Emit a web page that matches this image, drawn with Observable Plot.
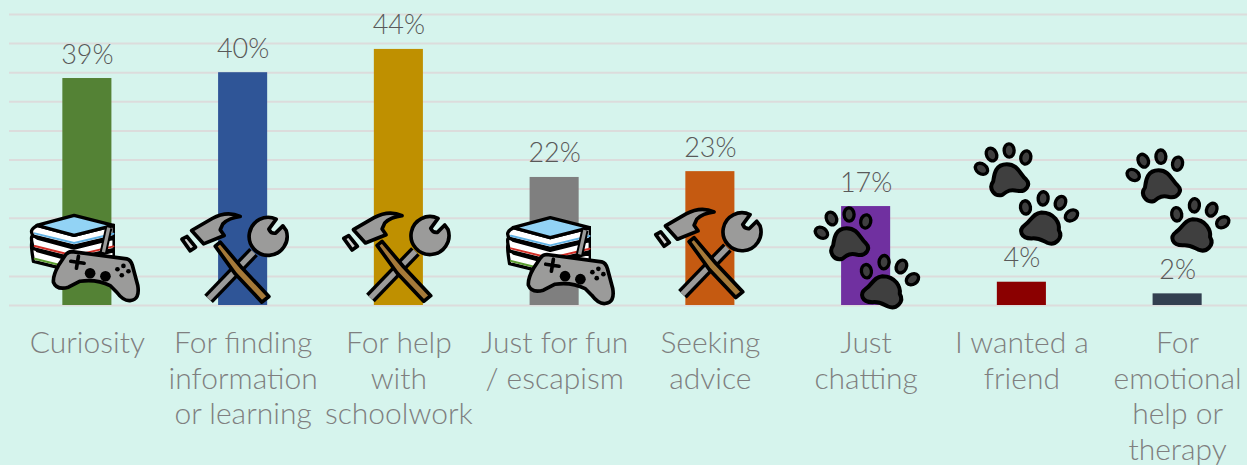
<!DOCTYPE html>
<html>
<head>
<meta charset="utf-8">
<script src="https://cdn.jsdelivr.net/npm/d3@7"></script>
<script src="https://cdn.jsdelivr.net/npm/@observablehq/plot@0.6"></script>
<style>
html,body{margin:0;padding:0;background:#d6f4ed;overflow:hidden}
svg{display:block}
</style>
</head>
<body>
<div id="chart"></div>
<script>
const categories = ["Curiosity","For finding information or learning","For help with schoolwork","Just for fun / escapism","Seeking advice","Just chatting","I wanted a friend","For emotional help or therapy"];
const tickLabels = ["Curiosity","For finding\ninformation\nor learning","For help\nwith\nschoolwork","Just for fun\n/ escapism","Seeking\nadvice","Just\nchatting","I wanted a\nfriend","For\nemotional\nhelp or\ntherapy"];
const values = [39,40,44,22,23,17,4,2];
const barColors = ["#548235","#2f5597","#bf9000","#7f7f7f","#c55a11","#7030a0","#8b0000","#333f50"];
const gridTicks = [0,5,10,15,20,25,30,35,40,45,50];

const uri = (vb, body) => "data:image/svg+xml," + encodeURIComponent(
  `<svg xmlns="http://www.w3.org/2000/svg" viewBox="${vb}" stroke-linejoin="round" stroke-linecap="round">${body}</svg>`);

const gray = "#9b9b9a", ink = "#000";
const block = (dy, c) => `<path d="M112 ${105+dy} Q84 118 100 ${137+dy} L222 ${167+dy} L342 ${139+dy} L342 ${105+dy} L222 ${135+dy} Z" fill="#fff" stroke="${ink}" stroke-width="10"/>
<path d="M104 ${129+dy} L222 ${158+dy} L340 ${130+dy}" fill="none" stroke="${c}" stroke-width="6"/>`;
const books = uri("85 25 260 260",
  block(76,"#5c9e31") + block(38,"#d22f27") + block(0,"#61b2e4") +
  `<path d="M110 105 L222 75 L340 105 L222 135 Z" fill="#92d3f5" stroke="${ink}" stroke-width="10"/>
   <path d="M326 112 L310 185" stroke="${ink}" stroke-width="22" stroke-linecap="butt"/>
   <path d="M326 112 L310 185" stroke="${gray}" stroke-width="10" stroke-linecap="butt"/>`);
const gamepad = uri("152 122 270 270",
  `<path d="M215 183 L380 205 Q392 208 397 225 L413 285 Q420 328 390 330 Q370 332 350 305 L330 285 Q290 265 240 272 L205 290 Q170 300 160 275 Q158 255 175 225 L195 195 Q203 183 215 183 Z" fill="${gray}" stroke="${ink}" stroke-width="11"/>
   <path d="M212 212 L252 218 M235 197 L229 233" stroke="${ink}" stroke-width="11" fill="none"/>
   <circle cx="270" cy="248" r="16"/><circle cx="316" cy="257" r="16"/>
   <circle cx="352" cy="236" r="7"/><circle cx="370" cy="226" r="7"/><circle cx="385" cy="242" r="7"/><circle cx="365" cy="254" r="7"/>`);
const tools = uri("532 35 340 340",
  `<path d="M625 325 L760 185" stroke="${ink}" stroke-width="36" stroke-linecap="butt"/>
   <path d="M625 325 L760 185" stroke="${gray}" stroke-width="16" stroke-linecap="butt"/>
   <path d="M828 86 A57 57 0 1 0 858 120 L848 106 L826 128 Q812 130 806 116 Z" fill="${gray}" stroke="${ink}" stroke-width="11"/>
   <path d="M645 167 L660 155 L725 232 L806 318 L785 335 L705 250 Z" fill="#a57939" stroke="${ink}" stroke-width="11"/>
   <path d="M574 120 L636 84 Q680 60 720 78 Q686 82 668 100 L660 118 L672 135 L610 160 Z" fill="${gray}" stroke="${ink}" stroke-width="11"/>
   <path d="M545 146 L560 138 L586 170 L570 181 Z" fill="#d0cfce" stroke="${ink}" stroke-width="11"/>`);
const toe = (x,y,r) => `<ellipse cx="${x}" cy="${y}" rx="15" ry="20" transform="rotate(${r} ${x} ${y})" fill="#3f3f3f" stroke="${ink}" stroke-width="10"/>`;
const pawLeft = uri("30 215 190 190",
  toe(62,307,-55)+toe(92,264,-25)+toe(145,252,-3)+toe(195,273,12)+
  `<path d="M138 293 C172 293 178 325 195 338 C212 355 195 378 170 373 C150 368 140 372 125 385 C100 392 82 365 97 345 C100 335 98 293 138 293 Z" fill="#3f3f3f" stroke="${ink}" stroke-width="12"/>`);
const pawRight = uri("169 356 194 194",
  toe(197,422,-8)+toe(250,395,5)+toe(302,408,25)+toe(335,446,55)+
  `<path d="M245 437 C285 437 300 470 297 490 C312 515 285 538 262 528 C245 520 235 512 215 515 C183 515 175 490 195 475 C215 462 218 440 245 437 Z" fill="#3f3f3f" stroke="${ink}" stroke-width="12"/>`);

// icon placement: category index, y on the value scale, horizontal nudge from the bar centre
const iconLayout = [
  {i:0,src:books,size:86.7,y:10.90,dx:-15.6},{i:0,src:gamepad,size:90,y:5.03,dx:8.4},
  {i:1,src:tools,size:113.3,y:8.02,dx:-8.9},
  {i:2,src:tools,size:113.3,y:8.16,dx:-2.8},
  {i:3,src:books,size:86.7,y:10.50,dx:-6.7},{i:3,src:gamepad,size:90,y:4.52,dx:16.1},
  {i:4,src:tools,size:113.3,y:8.81,dx:-2.3},
  {i:5,src:pawLeft,size:63.3,y:12.32,dx:-23.7},{i:5,src:pawRight,size:64.7,y:4.12,dx:23.3},
  {i:6,src:pawLeft,size:63.3,y:23.31,dx:-19.4},{i:6,src:pawRight,size:64.7,y:15.08,dx:26.6},
  {i:7,src:pawLeft,size:63.3,y:22.25,dx:-23.4},{i:7,src:pawRight,size:64.7,y:13.89,dx:22.1}
];

const rows = categories.map((c,i)=>({c, v:values[i], color:barColors[i], tick:tickLabels[i]}));
const tickOf = new Map(rows.map(r=>[r.c,r.tick]));
const font = "Lato, sans-serif";

const chart = Plot.plot({
  width:1247, height:465,
  marginTop:14, marginBottom:160, marginLeft:9, marginRight:-8,
  style:{background:"#d6f4ed", fontFamily:font, overflow:"visible"},
  x:{domain:categories, paddingInner:0.685, paddingOuter:0.3425, round:false, axis:null},
  y:{domain:[0,50], axis:null},
  color:{type:"identity"},
  marks:[
    Plot.ruleY(gridTicks,{stroke:"#dcdcdc", strokeWidth:2}),
    Plot.barY(rows,{x:"c", y:"v", fill:"color"}),
    Plot.text(rows,{x:"c", y:"v", text:d=>d.v+"%", dy:-15, lineAnchor:"bottom", fontSize:27, fontWeight:300, fill:"#595959"}),
    Plot.axisX({domain:categories, anchor:"bottom", tickSize:0, tickPadding:22, fontSize:30, fontWeight:300, lineHeight:1.19, tickFormat:c=>tickOf.get(c), fill:"#7f7f7f", label:null}),
    ...iconLayout.map(d=>Plot.image([d],{x:r=>categories[r.i], y:"y", src:"src", width:d.size, height:d.size, dx:d.dx}))
  ]
});
document.getElementById("chart").append(chart);
</script>
</body>
</html>
